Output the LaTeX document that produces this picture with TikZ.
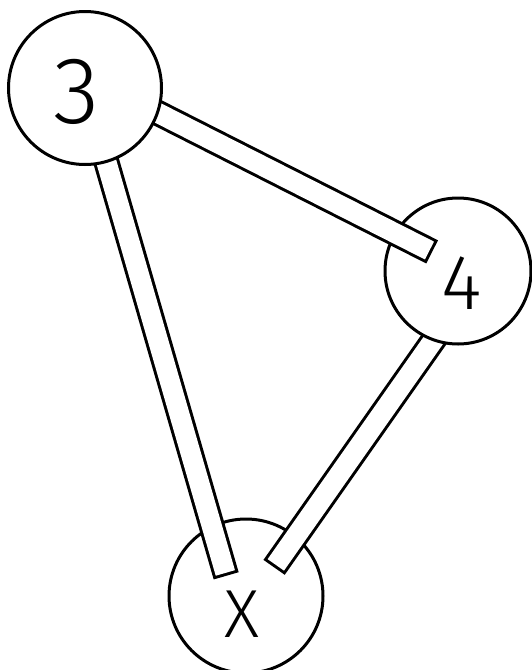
\documentclass[tikz,border=0pt]{standalone}
\usepackage{fontspec}
\newfontfamily\handfont{Fira Sans Light}
\usepackage{tikz}
\usetikzlibrary{calc}

\pgfdeclarelayer{bottom}
\pgfdeclarelayer{lower}
\pgfdeclarelayer{middle}
\pgfdeclarelayer{upper}
\pgfsetlayers{bottom,lower,middle,upper,main}

\begin{document}
\begin{tikzpicture}[
    x=1pt, y=-1pt,
    ring/.style={circle, draw=black, fill=white, line width=3pt, inner sep=0pt},
    bar/.style={draw=black, double=white, double distance=20pt, line width=3pt, line cap=rect},
    digit/.style={inner sep=0pt}
]
    \useasboundingbox (0,0) rectangle (531,670);

    % --- 1. Circles ---
    \begin{pgfonlayer}{bottom}
        \node[ring, minimum size=154pt] (cx) at (246,596) {};
        \node[digit, font=\handfont\fontsize{68}{68}\selectfont] (lx) at ($(cx)+(-4,18)$) {X};
    \end{pgfonlayer}
    \begin{pgfonlayer}{middle}
        \node[ring, minimum size=146pt] (c4) at (458,271) {};
        \node[digit, font=\handfont\fontsize{78}{78}\selectfont] (l4) at ($(c4)+(4,12)$) {4};
    \end{pgfonlayer}
    \node[ring, minimum size=153pt] (c3) at (85,88) {};
    \node[digit, font=\handfont\fontsize{95}{95}\selectfont] (l3) at ($(c3)+(-8,4)$) {3};

    % --- 2. Bars ---
    \begin{pgfonlayer}{lower}
        \draw[bar, shorten >=48pt] ([xshift=24pt]c4.center) -- ([xshift=8pt]cx.center);
    \end{pgfonlayer}
    \begin{pgfonlayer}{upper}
        \draw[bar, shorten >=42pt] ([yshift=12pt]c3.center) -- ([yshift=6pt]c4.center);
        \draw[bar, shorten >=34pt] (c3.center) -- ([xshift=-14pt]cx.center);
    \end{pgfonlayer}

\end{tikzpicture}
\end{document}
